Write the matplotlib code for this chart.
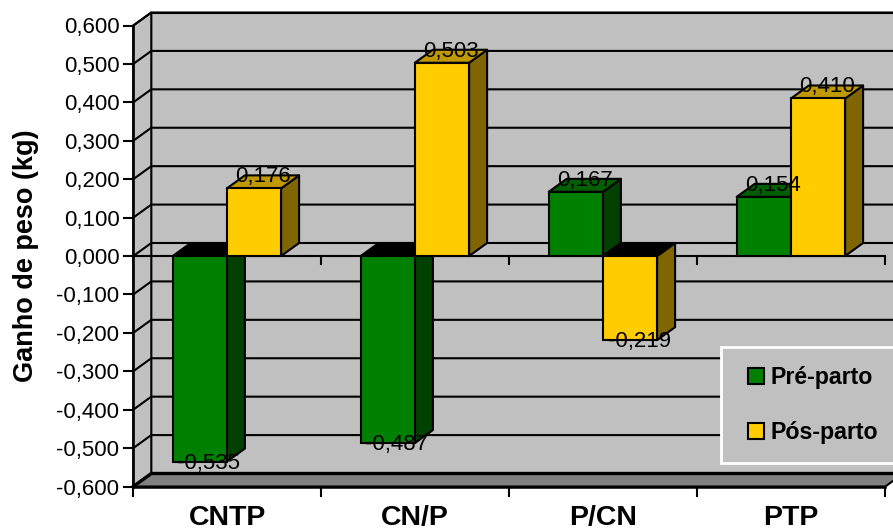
import matplotlib
matplotlib.use("Agg")
import matplotlib.pyplot as plt
from matplotlib.patches import Patch, Rectangle
from matplotlib.ticker import FixedLocator, FuncFormatter

categories = ["CNTP", "CN/P", "P/CN", "PTP"]
pre_parto = [-0.535, -0.487, 0.167, 0.154]
pos_parto = [0.176, 0.503, -0.219, 0.410]
series_names = ["Pré-parto", "Pós-parto"]
y_ticks = [-0.6, -0.5, -0.4, -0.3, -0.2, -0.1, 0.0, 0.1, 0.2, 0.3, 0.4, 0.5, 0.6]

W, H = 893, 531
plt.rcParams["font.family"] = ["Liberation Sans", "DejaVu Sans"]
fig = plt.figure(figsize=(W / 100, H / 100), dpi=100, facecolor="white")
ax = fig.add_axes([133.3 / W, (H - 486.5) / H, 752 / W, 461 / H])
ax.patch.set_visible(False)
ax.set_xlim(0, 4)
ax.set_ylim(-0.6, 0.6)

# depth of the pseudo-3D box in data units
dx = 18 / 188
dy = 13 / 384.2
LW = 1.5
x0, x1 = 0, 4
y0, y1 = -0.6, 0.6
right = 4.2


def face(xs, ys, color, z, lw=LW, edge="black"):
    ax.fill(xs, ys, facecolor=color, edgecolor=edge, linewidth=lw, zorder=z,
            clip_on=False, joinstyle="round")


# walls and floor
face([dx, right, right, dx], [y0 + dy, y0 + dy, y1 + dy, y1 + dy], "#C0C0C0", 0.5)
face([x0, dx, dx, x0], [y0, y0 + dy, y1 + dy, y1], "#C0C0C0", 0.6)
face([x0, x1, x1 + dx, dx], [y0, y0, y0 + dy, y0 + dy], "#808080", 0.7)

# gridlines on the back and left walls
for t in y_ticks:
    lw = 2.4 if t == y0 else LW
    ax.plot([x0, dx, right], [t, t + dy, t + dy], color="black", lw=lw, zorder=1,
            clip_on=False, solid_joinstyle="miter")

# zero line at the front, with its tick marks
ax.plot([x0, x1], [0, 0], color="black", lw=LW, zorder=1.5, clip_on=False)
for k in range(1, 5):
    ax.plot([k, k], [0, -8 / 384.2], color="black", lw=LW, zorder=1.5, clip_on=False)

# bars
width = 54.2 / 188
start = 39.4 / 188
styles = [
    {"front": "#008000", "side": "#004000", "top": "#006000"},
    {"front": "#FFCC00", "side": "#806600", "top": "#C09900"},
]
z = 3.0
for c, vals in enumerate(zip(pre_parto, pos_parto)):
    for s, v in enumerate(vals):
        st = styles[s]
        a = c + start + s * width
        b = a + width
        top_level = max(v, 0)
        top_color = st["top"] if v > 0 else "black"
        face([b, b + dx, b + dx, b], [0, dy, v + dy, v], st["side"], z)
        face([a, b, b + dx, a + dx], [top_level, top_level, top_level + dy, top_level + dy],
             top_color, z + 0.01)
        ax.bar(a, v, width=width, align="edge", color=st["front"], edgecolor="black",
               linewidth=LW, zorder=z + 0.02, clip_on=False)
        z += 0.1

# value labels
for c, vals in enumerate(zip(pre_parto, pos_parto)):
    for s, v in enumerate(vals):
        mid = c + start + s * width + width / 2 + dx / 2
        ly = (v + dy if v > 0 else v) - 1.5 / 384.2
        ax.text(mid, ly, f"{v:.3f}".replace(".", ","), ha="center", va="center",
                fontsize=16, color="black", zorder=20, clip_on=False)

# axes
for name in ("top", "right"):
    ax.spines[name].set_visible(False)
for name in ("left", "bottom"):
    ax.spines[name].set_linewidth(LW + 0.3)
    ax.spines[name].set_zorder(2)
ax.yaxis.set_major_locator(FixedLocator(y_ticks))
ax.yaxis.set_major_formatter(FuncFormatter(lambda v, _: f"{v:.3f}".replace(".", ",")))
ax.xaxis.set_major_locator(FixedLocator(range(5)))
ax.xaxis.set_major_formatter(FuncFormatter(lambda v, _: ""))
ax.set_xticks([i + 0.5 for i in range(4)], categories, minor=True)
ax.tick_params(axis="y", length=7, width=LW, labelsize=16, pad=3)
ax.tick_params(axis="x", which="major", length=7, width=LW)
ax.tick_params(axis="x", which="minor", length=0, labelsize=20.5, pad=13)
for lab in ax.get_xticklabels(minor=True):
    lab.set_fontweight("bold")
ax.set_ylabel("Ganho de peso (kg)", fontsize=19.5, fontweight="bold")
ax.yaxis.set_label_coords((39 - 133) / 752, 0.5)

# legend frame and legend
ax.add_patch(Rectangle((720.5 / W, (H - 463) / H), 190 / W, 116 / H, transform=fig.transFigure,
                       facecolor="#C0C0C0", edgecolor="white", linewidth=2, zorder=29, clip_on=False))
handles = [Patch(facecolor=styles[i]["front"], edgecolor="black", linewidth=LW, label=series_names[i])
           for i in range(2)]
leg = ax.legend(handles=handles, loc="lower left", bbox_to_anchor=(748 / W, (H - 444) / H),
                bbox_transform=fig.transFigure, borderaxespad=0, borderpad=0,
                prop={"size": 16.7, "weight": "bold"}, handlelength=0.69, handleheight=0.69,
                handletextpad=0.28, labelspacing=1.38, frameon=False)
leg.set_zorder(30)

fig.savefig("out.png", dpi=100, facecolor="white")
